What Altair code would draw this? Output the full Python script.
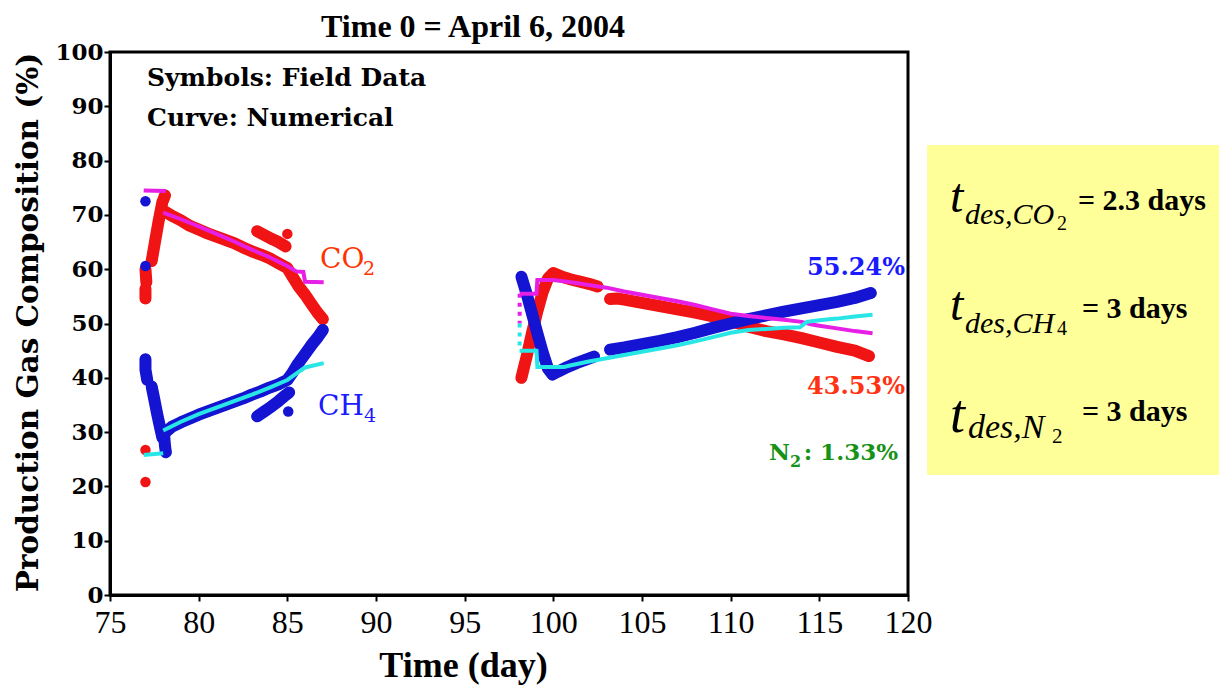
import altair as alt
import pandas as pd

# ---------------- data ----------------
# Field data, CO2 (red symbols); segments mark continuous runs of dense symbols
co2_day = [77.0, 77.05,
           77.0, 77.0,
           77.35, 77.55, 77.75, 77.95, 78.1,
           78.1, 78.5, 79.0, 79.5, 80.0, 80.5, 81.0, 81.5, 82.0, 82.5, 83.0, 83.5, 84.0, 84.5, 85.0,
           85.3, 85.6, 86.0, 86.4, 86.7, 87.0,
           83.3, 83.7, 84.1, 84.5, 84.9,
           98.2, 98.5, 98.8, 99.1, 99.4, 99.7, 100.0, 100.5, 101.0, 101.5, 102.0, 102.5,
           103.2, 103.6, 104.0, 105.0, 106.0, 107.0, 108.0, 109.0, 110.0, 111.0, 112.0, 113.0,
           114.0, 115.0, 116.0, 117.0, 117.8]
co2_val = [60.0, 57.6,
           56.4, 54.6,
           61.5, 65.3, 69.0, 72.3, 73.6,
           70.6, 69.8, 69.0, 68.0, 67.3, 66.6, 66.0, 65.4, 64.8, 64.0, 63.3, 62.7, 62.0, 61.1, 60.2,
           58.6, 57.0, 55.3, 53.4, 52.0, 50.8,
           67.0, 66.3, 65.6, 65.0, 64.2,
           40.0, 44.0, 48.3, 52.3, 55.8, 58.3, 59.3, 58.6, 58.1, 57.7, 57.3, 56.8,
           54.5, 54.6, 54.4, 53.8, 53.2, 52.6, 52.0, 51.3, 50.5, 49.4, 48.6, 48.0,
           47.3, 46.5, 45.7, 45.0, 44.0]
co2_seg = (["a"] * 2 + ["b"] * 2 + ["c"] * 5 + ["d"] * 21 + ["e"] * 5 + ["f"] * 12 + ["g"] * 17)
co2_iso_day = [77.0, 77.0, 85.0]
co2_iso_val = [26.7, 20.8, 66.5]

# Field data, CH4 (blue symbols)
ch4_day = [77.0, 77.0, 77.1,
           77.35, 77.5, 77.65, 77.8, 77.95,
           78.05, 78.1, 78.15,
           78.2, 78.5, 79.0, 79.5, 80.0, 80.5, 81.0, 81.5, 82.0, 82.5, 83.0, 83.5, 84.0, 84.5, 85.0,
           85.3, 85.6, 86.0, 86.4, 86.7, 87.0,
           83.3, 83.7, 84.1, 84.5, 84.9, 85.1,
           98.2, 98.5, 98.8, 99.1, 99.4, 99.7, 99.95, 100.3, 100.8, 101.3, 101.8, 102.3,
           103.2, 104.0, 105.0, 106.0, 107.0, 108.0, 109.0, 110.0, 111.0, 112.0, 113.0, 114.0,
           115.0, 116.0, 117.0, 117.9]
ch4_val = [43.4, 41.5, 39.6,
           38.4, 36.0, 33.5, 31.2, 29.0,
           29.5, 27.5, 26.3,
           30.2, 31.0, 31.8, 32.5, 33.2, 33.8, 34.4, 35.0, 35.6, 36.2, 36.9, 37.5, 38.2, 38.8, 39.6,
           41.0, 42.6, 44.4, 46.2, 47.4, 48.8,
           32.9, 33.8, 34.7, 35.7, 36.8, 37.3,
           58.6, 55.4, 51.8, 48.2, 44.7, 41.7, 40.6, 41.2, 42.0, 42.7, 43.3, 43.9,
           45.2, 45.6, 46.2, 46.8, 47.5, 48.3, 49.2, 50.0, 50.8, 51.5, 52.2, 52.8,
           53.4, 54.0, 54.7, 55.6]
ch4_seg = (["a"] * 3 + ["b"] * 5 + ["c"] * 3 + ["d"] * 21 + ["e"] * 6 + ["f"] * 12 + ["g"] * 16)
ch4_iso_day = [77.0, 77.0, 85.05]
ch4_iso_val = [72.5, 60.6, 33.8]

# Numerical curve, CO2 (magenta)
co2_num_day = [76.9, 78.15,
               78.0, 79.0, 80.0, 81.0, 82.0, 83.0, 84.0, 84.5, 85.0, 85.5, 85.9, 86.0, 87.05,
               98.1, 99.05, 99.1, 100.0, 101.0, 102.0, 103.0, 104.0, 105.0, 106.0, 107.0, 108.0,
               109.0, 110.0, 111.0, 112.0, 113.0, 114.0, 114.6, 115.0, 116.0, 117.0, 118.0]
co2_num_val = [74.5, 74.4,
               70.4, 69.2, 67.9, 66.5, 65.1, 63.6, 62.2, 61.4, 60.6, 59.6, 59.5, 57.7, 57.6,
               55.5, 55.5, 58.0, 58.0, 57.6, 57.1, 56.6, 55.9, 55.3, 54.7, 54.1, 53.4,
               52.6, 51.8, 51.4, 51.0, 50.7, 50.3, 49.8, 49.6, 49.1, 48.6, 48.2]
co2_num_seg = ["a"] * 2 + ["b"] * 13 + ["c"] * 23

# Numerical curve, CH4 (cyan)
ch4_num_day = [76.9, 78.0,
               78.0, 79.0, 80.0, 81.0, 82.0, 83.0, 84.0, 85.0, 85.6, 86.0, 87.05,
               98.1, 99.05, 99.1, 100.6, 101.0, 102.0, 103.0, 104.0, 105.0, 106.0, 107.0, 108.0,
               109.0, 110.0, 111.0, 112.0, 113.0, 113.9, 114.3, 115.0, 116.0, 117.0, 118.0]
ch4_num_val = [25.8, 26.1,
               30.3, 31.9, 33.3, 34.5, 35.7, 36.9, 38.2, 39.6, 41.0, 41.9, 42.7,
               45.0, 45.0, 42.0, 42.0, 42.3, 43.0, 43.6, 44.2, 44.8, 45.4, 46.0, 46.7,
               47.5, 48.3, 48.8, 49.0, 49.2, 49.3, 50.3, 50.6, 50.9, 51.3, 51.6]
ch4_num_seg = ["a"] * 2 + ["b"] * 11 + ["c"] * 23

# Dotted connection of the numerical curves at restart
dot_day = [98.1, 98.1]
dot_co2_val = [55.5, 50.0]
dot_ch4_val = [50.0, 45.0]

x_ticks = [75, 80, 85, 90, 95, 100, 105, 110, 115, 120]
y_ticks = [0, 10, 20, 30, 40, 50, 60, 70, 80, 90, 100]

# ---------------- styling ----------------
RED = "#f01414"
BLUE = "#1414d2"
MAGENTA = "#e61ee6"
CYAN = "#28e6e6"
SERIF = "DejaVu Serif"
TIMES = "Liberation Serif"

xs = alt.Scale(domain=[75, 120], nice=False, zero=False)
ys = alt.Scale(domain=[0, 100], nice=False, zero=False)

x_axis = alt.Axis(values=x_ticks, title="Time (day)", grid=False, labelFlush=False,
                  labelFont=TIMES, labelFontSize=32, labelFontWeight="normal",
                  labelColor="black", labelPadding=6,
                  tickSize=6, tickWidth=2, tickColor="black",
                  domainColor="black", domainWidth=3,
                  titleFont=TIMES, titleFontSize=36, titleFontWeight="bold",
                  titleColor="black", titleX=353, titleY=70, titleBaseline="middle")
y_axis = alt.Axis(values=y_ticks, title="Production Gas Composition (%)", grid=False,
                  labelFlush=False,
                  labelFont=SERIF, labelFontSize=23, labelFontWeight="bold",
                  labelColor="black", labelPadding=1,
                  tickSize=6, tickWidth=2, tickColor="black",
                  domainColor="black", domainWidth=3,
                  titleFont=SERIF, titleFontSize=29.5, titleFontWeight="bold",
                  titleColor="black", titleX=-82, titleY=270, titleBaseline="middle")


def frame(days, vals, segs=None):
    d = {"day": days, "val": vals}
    if segs is not None:
        d["seg"] = segs
    return pd.DataFrame(d)


def X():
    return alt.X("day:Q", scale=xs, axis=x_axis)


def Y():
    return alt.Y("val:Q", scale=ys, axis=y_axis)


def field_layers(days, vals, segs, iso_d, iso_v, color):
    df = frame(days, vals, segs)
    band = alt.Chart(df).mark_line(color=color, strokeWidth=12, strokeCap="round",
                                   strokeJoin="round").encode(x=X(), y=Y(), detail="seg:N")
    pts = alt.Chart(df).mark_circle(color=color, size=120, opacity=1).encode(x=X(), y=Y())
    iso = alt.Chart(frame(iso_d, iso_v)).mark_circle(color=color, size=110, opacity=1).encode(x=X(), y=Y())
    return [band, pts, iso]


def num_layer(days, vals, segs, color):
    return alt.Chart(frame(days, vals, segs)).mark_line(color=color, strokeWidth=4).encode(
        x=X(), y=Y(), detail="seg:N")


def dotted(days, vals, color):
    return alt.Chart(frame(days, vals)).mark_line(color=color, strokeWidth=4,
                                                  strokeDash=[4, 5]).encode(x=X(), y=Y())


dummy = pd.DataFrame({"k": [0]})


def label(text, x, y, size, font=SERIF, weight="bold", color="black", align="left",
          style="normal", baseline="middle"):
    return alt.Chart(dummy).mark_text(font=font, fontSize=size, fontWeight=weight, color=color,
                                      align=align, baseline=baseline, fontStyle=style).encode(
        x=alt.value(x), y=alt.value(y), text=alt.value(text))


box = alt.Chart(dummy).mark_rect(color="#ffff99").encode(
    x=alt.value(817), x2=alt.value(1125), y=alt.value(93), y2=alt.value(423))

layers = [box]
layers += field_layers(co2_day, co2_val, co2_seg, co2_iso_day, co2_iso_val, RED)
layers += field_layers(ch4_day, ch4_val, ch4_seg, ch4_iso_day, ch4_iso_val, BLUE)
layers += [num_layer(co2_num_day, co2_num_val, co2_num_seg, MAGENTA),
           num_layer(ch4_num_day, ch4_num_val, ch4_num_seg, CYAN),
           dotted(dot_day, dot_co2_val, MAGENTA),
           dotted(dot_day, dot_ch4_val, CYAN)]

layers += [
    label("Time 0 = April 6, 2004", 363, -15, 32, font=TIMES, align="center",
          baseline="alphabetic"),
    label("Symbols: Field Data", 37, 26, 25),
    label("Curve: Numerical", 37, 66, 25),
    # curve labels with lowered subscripts
    label("CO", 210, 216, 28, weight="normal", color="#ff3300", baseline="alphabetic"),
    label("2", 253, 223, 19, weight="normal", color="#ff3300", baseline="alphabetic"),
    label("CH", 208, 363, 28, weight="normal", color="#1a1aff", baseline="alphabetic"),
    label("4", 254, 370, 19, weight="normal", color="#1a1aff", baseline="alphabetic"),
    label("55.24%", 795, 216, 24, color="#1a1aff", align="right"),
    label("43.53%", 795, 335, 24, color="#ff3311", align="right"),
    label("N", 680, 408, 23, color="#169216", align="right", baseline="alphabetic"),
    label("2", 680, 415, 16, color="#169216", baseline="alphabetic"),
    label(": 1.33%", 788, 408, 23, color="#169216", align="right", baseline="alphabetic"),
    # yellow box formulas
    label("t", 840, 160, 48, font=TIMES, weight="normal", style="italic", baseline="alphabetic"),
    label("des,CO", 855, 172, 30, font=TIMES, weight="normal", style="italic", baseline="alphabetic"),
    label("2", 947, 178, 20, font=TIMES, weight="normal", baseline="alphabetic"),
    label("= 2.3 days", 968, 158, 30, font=TIMES, baseline="alphabetic"),
    label("t", 840, 268, 48, font=TIMES, weight="normal", style="italic", baseline="alphabetic"),
    label("des,CH", 855, 281, 30, font=TIMES, weight="normal", style="italic", baseline="alphabetic"),
    label("4", 947, 283, 20, font=TIMES, weight="normal", baseline="alphabetic"),
    label("= 3 days", 972, 266, 30, font=TIMES, baseline="alphabetic"),
    label("t", 840, 380, 54, font=TIMES, weight="normal", style="italic", baseline="alphabetic"),
    label("des,N", 858, 386, 34, font=TIMES, weight="normal", style="italic", baseline="alphabetic"),
    label("2", 942, 391, 21, font=TIMES, weight="normal", baseline="alphabetic"),
    label("= 3 days", 972, 369, 30, font=TIMES, baseline="alphabetic"),
]

chart = alt.layer(*layers).properties(
    width=798, height=543,
    autosize=alt.AutoSizeParams(type="none"),
    padding={"left": 102, "top": 44, "right": 311, "bottom": 90},
    background="white",
).configure_view(stroke="black", strokeWidth=3)

chart.save("out.html", embed_options={"renderer": "svg", "actions": False})
